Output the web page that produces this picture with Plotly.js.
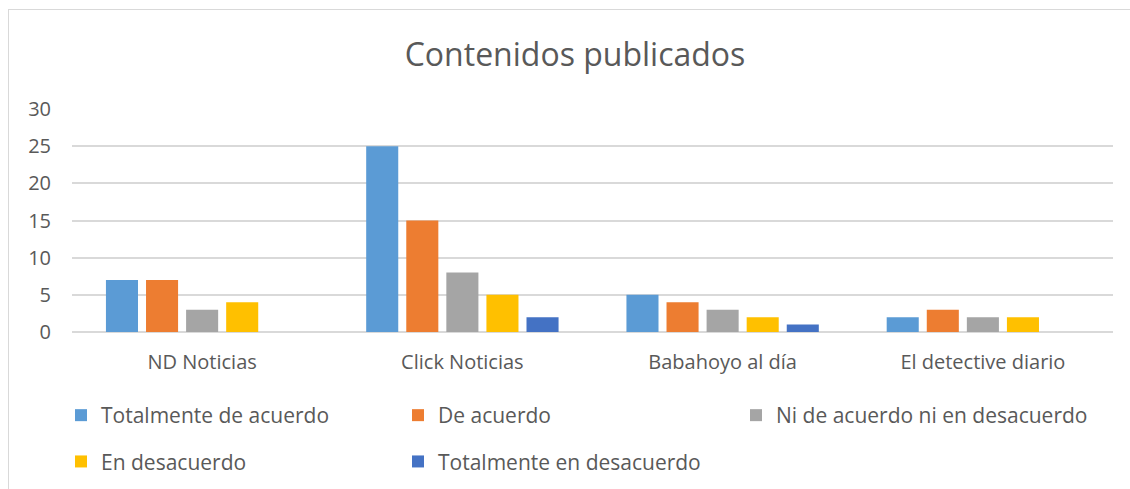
<!DOCTYPE html>
<html>
<head>
<meta charset="utf-8">
<script src="https://cdn.plot.ly/plotly-3.0.1.min.js"></script>
<style>
  html, body { margin: 0; padding: 0; background: #ffffff; }
  #wrap { position: relative; width: 1130px; height: 489px; overflow: hidden; }
  #chart { position: absolute; left: 0; top: 0; width: 1130px; height: 489px; }
  #frame { position: absolute; left: 8px; top: 9px; width: 1200px; height: 600px;
           border-left: 1px solid #d9d9d9; border-top: 1px solid #d9d9d9; pointer-events: none; }
</style>
</head>
<body>
<div id="wrap">
  <div id="chart"></div>
  <div id="frame"></div>
</div>
<script>
const categories = ["ND Noticias", "Click Noticias", "Babahoyo al día", "El detective diario"];
const seriesNames = ["Totalmente de acuerdo", "De acuerdo", "Ni de acuerdo ni en desacuerdo", "En desacuerdo", "Totalmente en desacuerdo"];
const totalmenteDeAcuerdo = [7, 25, 5, 2];
const deAcuerdo = [7, 15, 4, 3];
const niNi = [3, 8, 3, 2];
const enDesacuerdo = [4, 5, 2, 2];
const totalmenteEnDesacuerdo = [0, 2, 1, 0];
const yTicks = [0, 5, 10, 15, 20, 25, 30];

const seriesValues = [totalmenteDeAcuerdo, deAcuerdo, niNi, enDesacuerdo, totalmenteEnDesacuerdo];
const colors = ["#5B9BD5", "#ED7D31", "#A5A5A5", "#FFC000", "#4472C4"];
const legendIds = ["legend", "legend2", "legend3", "legend", "legend2"];

const FONT = "Open Sans, sans-serif";
const TXT = "#595959";

const traces = seriesValues.map((vals, i) => ({
  type: "bar",
  name: seriesNames[i],
  x: categories,
  y: vals,
  marker: { color: colors[i] },
  legend: legendIds[i],
  legendgroup: "g" + i,
  hoverinfo: "x+y+name"
}));

const legendBase = {
  orientation: "v",
  xref: "container", yref: "container",
  xanchor: "left", yanchor: "top",
  y: 1 - 395 / 489,
  font: { family: FONT, size: 21, color: TXT },
  bgcolor: "rgba(0,0,0,0)",
  borderwidth: 0,
  itemwidth: 30,
  tracegroupgap: 16,
  traceorder: "grouped"
};

const layout = {
  width: 1130, height: 489,
  margin: { l: 72, r: 17, t: 109, b: 157, pad: 0, autoexpand: false },
  paper_bgcolor: "#ffffff",
  plot_bgcolor: "#ffffff",
  font: { family: FONT, color: TXT },
  title: {
    text: "Contenidos publicados",
    font: { family: FONT, size: 32, color: TXT },
    x: 575 / 1130, xanchor: "center",
    y: 1 - 55 / 489, yanchor: "middle",
    xref: "container", yref: "container"
  },
  barmode: "group",
  bargap: 0.23,
  bargroupgap: 0.2,
  xaxis: {
    type: "category",
    showgrid: false,
    showline: false,
    zeroline: false,
    ticks: "",
    tickangle: 0,
    automargin: false,
    tickfont: { family: FONT, size: 20, color: TXT },
    ticklabelstandoff: 16
  },
  yaxis: {
    range: [0, 30],
    tickvals: yTicks,
    ticktext: yTicks.map(String),
    automargin: false,
    showgrid: true,
    gridcolor: "#d9d9d9",
    gridwidth: 1.5,
    zeroline: true,
    zerolinecolor: "#d9d9d9",
    zerolinewidth: 1.5,
    showline: false,
    ticks: "",
    tickfont: { family: FONT, size: 20, color: TXT },
    ticklabelstandoff: 20
  },
  legend: Object.assign({}, legendBase, { x: 61 / 1130 }),
  legend2: Object.assign({}, legendBase, { x: 398 / 1130 }),
  legend3: Object.assign({}, legendBase, { x: 736 / 1130 }),
  showlegend: true
};

Plotly.newPlot("chart", traces, layout, { displayModeBar: false, responsive: false });
</script>
</body>
</html>
